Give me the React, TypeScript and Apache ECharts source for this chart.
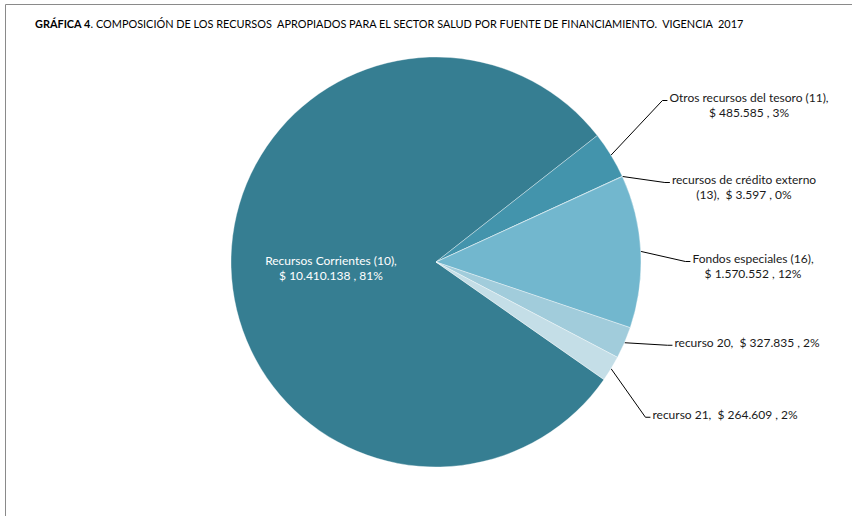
import React, { useEffect, useRef } from 'react';
import * as echarts from 'echarts';

// ---- data ----
const names = [
  'Recursos Corrientes (10)',
  'Otros recursos del tesoro (11)',
  'recursos de crédito externo\n(13)',
  'Fondos especiales (16)',
  'recurso 20',
  'recurso 21',
];
const values = [10410138, 485585, 3597, 1570552, 327835, 264609];
const percents = [81, 3, 0, 12, 2, 2];
const separators = ['\n', '\n', '  ', '\n', '  ', '  '];

// ---- styles / layout ----
const colors = ['#367E92', '#4394AC', '#5AA5BE', '#72B7CE', '#A1CCDB', '#C4DEE7'];
const labelCenters: [number, number][] = [
  [331, 268],
  [749, 105],
  [744, 187],
  [753, 266],
  [747, 342],
  [725, 414],
];
const FONT = 'Lato';
const TITLE_BOLD = 'GRÁFICA 4';
const TITLE_REST = '. COMPOSICIÓN DE LOS RECURSOS  APROPIADOS PARA EL SECTOR SALUD POR FUENTE DE FINANCIAMIENTO.  VIGENCIA  2017';

export default function App() {
  const ref = useRef<HTMLDivElement>(null);
  useEffect(() => {
    const chart = echarts.init(ref.current!, null, { renderer: 'svg' });
    const fmt = (v: number) => v.toLocaleString('de-DE');
    chart.setOption({
      animation: false,
      backgroundColor: '#ffffff',
      title: {
        text: `{b|${TITLE_BOLD}}{n|${TITLE_REST}}`,
        left: 30,
        top: 13,
        textStyle: {
          rich: {
            b: { fontFamily: FONT, fontSize: 10.9, fontWeight: 'bold', color: '#000' },
            n: { fontFamily: FONT, fontSize: 10.9, fontWeight: 'normal', color: '#000' },
          },
        },
      },
      graphic: [
        { type: 'line', shape: { x1: 5.5, y1: 4.5, x2: 852, y2: 4.5 }, style: { stroke: '#8a8a8a', lineWidth: 1 } },
        { type: 'line', shape: { x1: 5.5, y1: 4.5, x2: 5.5, y2: 516 }, style: { stroke: '#8a8a8a', lineWidth: 1 } },
      ],
      series: [
        {
          type: 'pie',
          center: [436, 262],
          radius: [0, 205],
          startAngle: 325,
          clockwise: true,
          avoidLabelOverlap: false,
          itemStyle: { borderColor: 'rgba(255,255,255,0.6)', borderWidth: 0.6 },
          label: {
            show: true,
            position: 'outside',
            fontFamily: FONT,
            fontSize: 12,
            lineHeight: 15.5,
            color: '#1a1a1a',
            align: 'center',
            formatter: (p: any) =>
              `${names[p.dataIndex]},${separators[p.dataIndex]}$ ${fmt(values[p.dataIndex])} , ${percents[p.dataIndex]}%`,
          },
          labelLine: { show: true, length: 10, length2: 5, lineStyle: { color: '#000', width: 1 } },
          labelLayout: (p: any) => {
            const i = p.dataIndex;
            const [cx, cy] = labelCenters[i];
            if (i === 0) return { x: cx, y: cy, align: 'center', verticalAlign: 'middle' };
            const w = p.labelRect.width;
            const h = p.labelRect.height;
            const endX = cx - w / 2 - 2;
            const endY = cy - h / 2 + 11;
            const start = p.labelLinePoints ? p.labelLinePoints[0] : [endX, endY];
            return {
              x: cx,
              y: cy,
              align: 'center',
              verticalAlign: 'middle',
              labelLinePoints: [start, [endX - 5, endY], [endX, endY]],
            };
          },
          data: names.map((n, i) => ({
            name: n,
            value: values[i],
            itemStyle: { color: colors[i] },
            label: i === 0 ? { position: 'inside', color: '#ffffff' } : undefined,
            labelLine: i === 0 ? { show: false } : undefined,
          })),
        },
      ],
    });
    return () => chart.dispose();
  }, []);
  return <div ref={ref} style={{ position: 'absolute', left: 0, top: 0, width: 852, height: 516 }} />;
}
